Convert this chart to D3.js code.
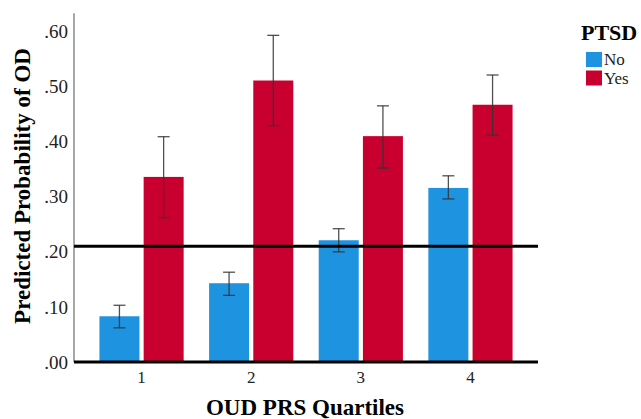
<!DOCTYPE html>
<html>
<head>
<meta charset="utf-8">
<script src="https://cdn.jsdelivr.net/npm/d3@7"></script>
<style>
  body { margin: 0; background: #fff; }
  svg { display: block; font-family: "Liberation Serif", "Times New Roman", serif; }
</style>
</head>
<body>
<svg width="641" height="419"></svg>
<script>
// quartiles on the x axis
var quartiles = ["1", "2", "3", "4"];
var groups = ["No", "Yes"];

// predicted probability, with lower / upper error bar ends
var noValues  = [0.083, 0.143, 0.221, 0.316];
var noLower   = [0.062, 0.121, 0.200, 0.296];
var noUpper   = [0.103, 0.163, 0.242, 0.338];
var yesValues = [0.336, 0.511, 0.410, 0.467];
var yesLower  = [0.262, 0.429, 0.352, 0.412];
var yesUpper  = [0.409, 0.593, 0.465, 0.521];

var threshold = 0.21;
var yTicks = [0, 0.1, 0.2, 0.3, 0.4, 0.5, 0.6];

var colors = { No: "#1e93e0", Yes: "#c9002f" };

var data = [];
quartiles.forEach(function(q, i) {
  data.push({ q: q, group: "No", value: noValues[i], lo: noLower[i], hi: noUpper[i] });
  data.push({ q: q, group: "Yes", value: yesValues[i], lo: yesLower[i], hi: yesUpper[i] });
});

var svg = d3.select("svg");

var plotLeft = 74, plotRight = 538, plotTop = 13.3, plotBottom = 362;

var x0 = d3.scaleBand().domain(quartiles).range([plotLeft, plotRight])
    .paddingInner(0.232).paddingOuter(0.232);
var x1 = d3.scaleBand().domain(groups).range([0, x0.bandwidth()])
    .paddingInner(0.095);
var y = d3.scaleLinear().domain([0, 0.633]).range([plotBottom, plotTop]);

// y axis line
svg.append("line")
    .attr("x1", plotLeft).attr("x2", plotLeft)
    .attr("y1", plotTop).attr("y2", plotBottom)
    .attr("stroke", "#8a8a8a")
    .attr("stroke-width", 1.5);

// y tick labels
var f = d3.format(".2f");
svg.append("g").selectAll("text")
    .data(yTicks)
  .enter().append("text")
    .attr("x", plotLeft - 6)
    .attr("y", function(d) { return y(d); })
    .attr("dy", "0.35em")
    .attr("text-anchor", "end")
    .attr("font-size", "19px")
    .attr("fill", "#222")
    .text(function(d) { return f(d).replace(/^0/, ""); });

// bars
svg.append("g").selectAll("rect")
    .data(data)
  .enter().append("rect")
    .attr("x", function(d) { return x0(d.q) + x1(d.group); })
    .attr("y", function(d) { return y(d.value); })
    .attr("width", x1.bandwidth())
    .attr("height", function(d) { return y(0) - y(d.value); })
    .attr("fill", function(d) { return colors[d.group]; });

// error bars
var eb = svg.append("g").selectAll("g")
    .data(data)
  .enter().append("g")
    .attr("stroke", "#333")
    .attr("stroke-opacity", 0.85)
    .attr("stroke-width", 1.3);

function cx(d) { return x0(d.q) + x1(d.group) + x1.bandwidth() / 2; }

eb.append("line")
    .attr("x1", cx).attr("x2", cx)
    .attr("y1", function(d) { return y(d.lo); })
    .attr("y2", function(d) { return y(d.hi); });
eb.append("line")
    .attr("x1", function(d) { return cx(d) - 6; })
    .attr("x2", function(d) { return cx(d) + 6; })
    .attr("y1", function(d) { return y(d.hi); })
    .attr("y2", function(d) { return y(d.hi); });
eb.append("line")
    .attr("x1", function(d) { return cx(d) - 6; })
    .attr("x2", function(d) { return cx(d) + 6; })
    .attr("y1", function(d) { return y(d.lo); })
    .attr("y2", function(d) { return y(d.lo); });

// baseline and reference line
svg.append("line")
    .attr("x1", plotLeft).attr("x2", plotRight)
    .attr("y1", y(0)).attr("y2", y(0))
    .attr("stroke", "#000").attr("stroke-width", 3);
svg.append("line")
    .attr("x1", plotLeft).attr("x2", plotRight)
    .attr("y1", y(threshold)).attr("y2", y(threshold))
    .attr("stroke", "#000").attr("stroke-width", 3);

// x tick labels
svg.append("g").selectAll("text")
    .data(quartiles)
  .enter().append("text")
    .attr("x", function(d) { return x0(d) + x0.bandwidth() / 2; })
    .attr("y", 383)
    .attr("text-anchor", "middle")
    .attr("font-size", "17px")
    .attr("fill", "#222")
    .text(function(d) { return d; });

// axis titles
svg.append("text")
    .attr("x", 305)
    .attr("y", 415)
    .attr("text-anchor", "middle")
    .attr("font-size", "23px")
    .attr("font-weight", "bold")
    .text("OUD PRS Quartiles");

svg.append("text")
    .attr("transform", "translate(30,186) rotate(-90)")
    .attr("text-anchor", "middle")
    .attr("font-size", "23px")
    .attr("font-weight", "bold")
    .text("Predicted Probability of OD");

// legend
var legend = svg.append("g").attr("transform", "translate(581,0)");
legend.append("text")
    .attr("x", 0).attr("y", 40)
    .attr("font-size", "22px")
    .attr("font-weight", "bold")
    .text("PTSD");

var items = legend.selectAll(".item")
    .data(groups)
  .enter().append("g")
    .attr("transform", function(d, i) { return "translate(5," + (52 + i * 18.5) + ")"; });
items.append("rect")
    .attr("width", 16).attr("height", 15)
    .attr("fill", function(d) { return colors[d]; });
items.append("text")
    .attr("x", 18).attr("y", 13)
    .attr("font-size", "17px")
    .attr("fill", "#222")
    .text(function(d) { return d; });
</script>
</body>
</html>
